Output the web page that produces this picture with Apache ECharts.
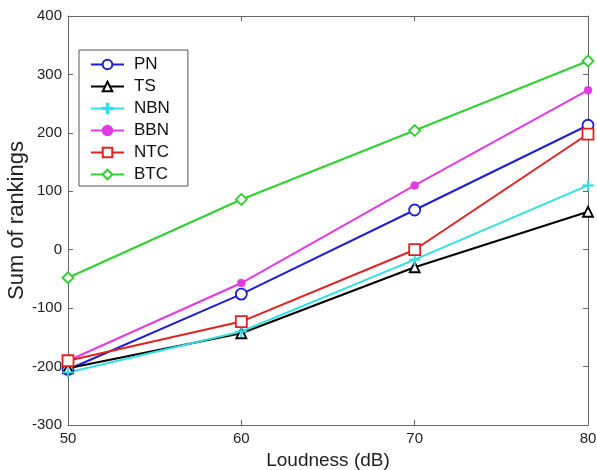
<!DOCTYPE html>
<html>
<head>
<meta charset="UTF-8">
<title>Sum of rankings</title>
<script src="https://cdn.jsdelivr.net/npm/echarts@6/dist/echarts.min.js"></script>
<style>
body { margin: 0; background: #fff; }
#chart { width: 597px; height: 470px; }
</style>
</head>
<body>
<div id="chart"></div>
<script>
var loudness = [50, 60, 70, 80];
var PN  = [-205, -76, 68, 213];
var TS  = [-203, -143, -30, 65];
var NBN = [-210, -140, -17, 110];
var BBN = [-190, -57, 110, 273];
var NTC = [-190, -123, 0, 198];
var BTC = [-48, 86, 204, 323];

var names = ['PN', 'TS', 'NBN', 'BBN', 'NTC', 'BTC'];
var values = [PN, TS, NBN, BBN, NTC, BTC];
var colors = ['#1f1fd0', '#000000', '#33e0e0', '#e33be3', '#e02222', '#2fd02f'];
var plus = 'path://M4.3,0h1.4v4.3h4.3v1.4h-4.3v4.3h-1.4v-4.3h-4.3v-1.4h4.3z';
var symbols = ['circle', 'triangle', plus, 'circle', 'rect', 'diamond'];
var sizes = [11, 10, 11, 8, 11, 11];
var filled = [false, false, true, true, false, false];

var font = 'Liberation Sans, Arial, Helvetica, sans-serif';
var axisColor = '#666';

var series = [];
for (var i = 0; i < names.length; i++) {
    var pts = [];
    for (var j = 0; j < loudness.length; j++) pts.push([loudness[j], values[i][j]]);
    series.push({
        name: names[i],
        type: 'line',
        data: pts,
        symbol: symbols[i],
        symbolSize: sizes[i],
        showAllSymbol: true,
        lineStyle: { color: colors[i], width: 2 },
        itemStyle: {
            color: filled[i] ? colors[i] : '#fff',
            borderColor: colors[i],
            borderWidth: filled[i] ? 0.5 : 1.8
        },
        emphasis: { disabled: true },
        animation: false
    });
}

// top and right axes only draw the box edge and inner ticks
function boxAxis(pos) {
    return {
        position: pos,
        axisLine: { show: true, onZero: false, lineStyle: { color: axisColor, width: 1 } },
        axisTick: { show: true, inside: true, length: 5, lineStyle: { color: axisColor } },
        axisLabel: { show: false },
        splitLine: { show: false }
    };
}

var xTop = boxAxis('top');
xTop.type = 'value'; xTop.min = 50; xTop.max = 80; xTop.interval = 10;
var yRight = boxAxis('right');
yRight.type = 'value'; yRight.min = -300; yRight.max = 400; yRight.interval = 100;

var chart = echarts.init(document.getElementById('chart'));
chart.setOption({
    backgroundColor: '#fff',
    textStyle: { fontFamily: font },
    grid: { left: 68, right: 9, top: 16, bottom: 45, outerBoundsMode: 'none', containLabel: false },
    legend: {
        orient: 'vertical',
        left: 79, top: 50,
        padding: [6, 18, 3, 11],
        itemWidth: 33, itemHeight: 12, itemGap: 5,
        borderColor: '#555', borderWidth: 1,
        backgroundColor: '#fff',
        data: names,
        textStyle: { fontSize: 17, color: '#111', fontFamily: font, padding: [0, 0, 0, 5] }
    },
    xAxis: [{
        type: 'value', min: 50, max: 80, interval: 10, position: 'bottom',
        name: 'Loudness (dB)', nameLocation: 'middle', nameGap: 23,
        nameTextStyle: { fontSize: 19, color: '#222', fontFamily: font },
        axisLine: { show: true, onZero: false, lineStyle: { color: axisColor, width: 1 } },
        axisTick: { show: true, inside: true, length: 5, lineStyle: { color: axisColor } },
        axisLabel: { fontSize: 15, color: '#222', margin: 6, fontFamily: font },
        splitLine: { show: false }
    }, xTop],
    yAxis: [{
        type: 'value', min: -300, max: 400, interval: 100, position: 'left',
        name: 'Sum of rankings', nameLocation: 'middle', nameGap: 40, nameMoveOverlap: false,
        nameTextStyle: { fontSize: 22, color: '#222', fontFamily: font },
        axisLine: { show: true, onZero: false, lineStyle: { color: axisColor, width: 1 } },
        axisTick: { show: true, inside: true, length: 5, lineStyle: { color: axisColor } },
        axisLabel: { fontSize: 15, color: '#222', margin: 6, fontFamily: font },
        splitLine: { show: false }
    }, yRight],
    series: series
});
</script>
</body>
</html>
